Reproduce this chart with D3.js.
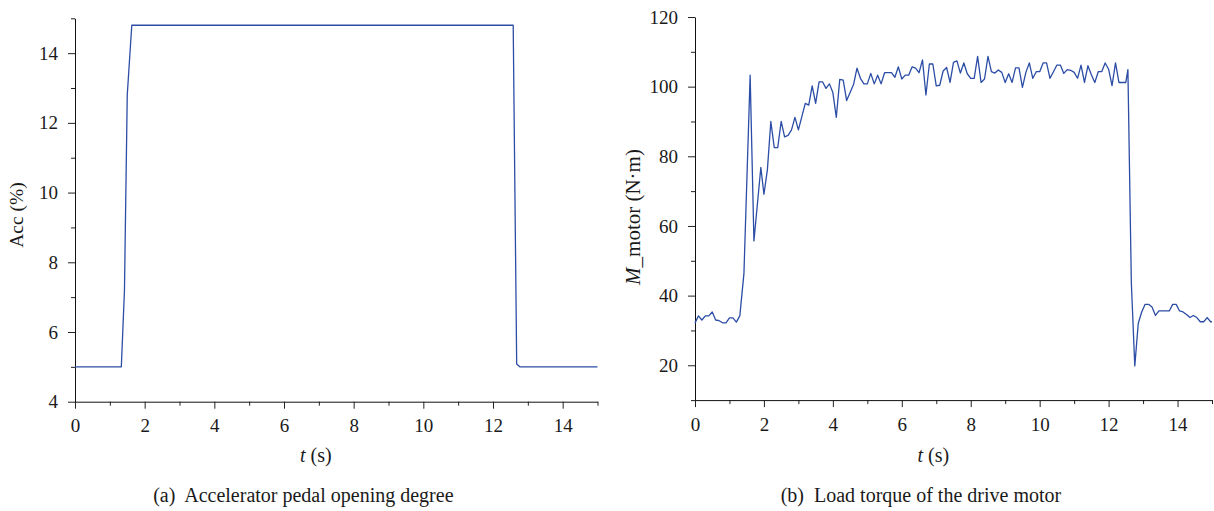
<!DOCTYPE html>
<html><head><meta charset="utf-8">
<script src="https://cdn.jsdelivr.net/npm/d3@7"></script>
<style>
body{margin:0;background:#fff}
text{font-family:"Liberation Serif","Times New Roman","DejaVu Serif",serif;fill:#1a1a1a}
</style>
</head><body><svg id="c" width="1214" height="511" font-family="Liberation Serif, serif"></svg>
<script>
// ---- data ----
const accTime  = [0, 1.33, 1.42, 1.50, 1.63, 12.58, 12.68, 12.77, 15];
const accValue = [5, 5, 7.2, 12.8, 14.8, 14.8, 5.08, 5.0, 5.0];

const torqueTime = [0,0.1,0.2,0.3,0.4,0.5,0.6,0.7,0.8,0.9,1.0,1.1,1.2,1.3,1.42,1.6,1.71,1.91,2.0,2.1,2.2,2.3,2.4,2.5,2.6,2.7,2.8,2.9,3.0,3.1,3.2,3.3,3.4,3.5,3.6,3.7,3.8,3.9,4.0,4.1,4.2,4.3,4.4,4.5,4.6,4.7,4.8,4.9,5.0,5.1,5.2,5.3,5.4,5.5,5.6,5.7,5.8,5.9,6.0,6.1,6.2,6.3,6.4,6.5,6.6,6.7,6.8,6.9,7.0,7.1,7.2,7.3,7.4,7.5,7.6,7.7,7.8,7.9,8.0,8.1,8.2,8.3,8.4,8.5,8.6,8.7,8.8,8.9,9.0,9.1,9.2,9.3,9.4,9.5,9.6,9.7,9.8,9.9,10.0,10.1,10.2,10.3,10.4,10.5,10.6,10.7,10.8,10.9,11.0,11.1,11.2,11.3,11.4,11.5,11.6,11.7,11.8,11.9,12.0,12.1,12.2,12.3,12.4,12.5,12.56,12.66,12.76,12.86,12.96,13.06,13.16,13.26,13.36,13.46,13.56,13.66,13.76,13.86,13.96,14.06,14.16,14.26,14.36,14.46,14.56,14.66,14.76,14.86,14.96,15.0];
const torqueValue = [32.1,34.2,33.0,34.2,34.2,35.3,33.0,32.8,32.2,32.2,33.6,33.6,32.4,34.2,46.4,103.3,55.7,76.8,69.1,76.1,90.0,82.5,82.5,90.0,85.6,86.0,87.6,91.2,87.6,91.4,95.2,94.7,100.2,95.2,101.4,101.4,99.5,100.8,98.3,91.2,102.1,101.9,96.0,98.3,100.6,105.3,102.4,100.8,100.8,103.8,100.8,103.3,100.8,104.0,104.0,104.0,102.7,105.7,102.2,103.3,103.3,105.7,105.3,104.0,107.7,97.6,106.5,106.5,100.2,100.4,104.5,105.5,101.2,107.0,107.4,103.9,106.8,103.7,102.4,102.4,108.7,101.2,102.2,108.7,104.3,103.9,104.8,104.1,101.2,103.7,101.2,105.4,105.4,99.8,104.1,106.8,102.4,104.3,104.3,106.8,106.8,102.4,104.3,106.2,106.2,103.8,104.9,104.7,104.1,102.4,106.2,101.2,106.0,103.4,101.2,104.3,104.3,106.8,105.0,100.3,106.8,101.2,101.2,101.2,104.9,43.6,19.8,32.0,35.3,37.5,37.5,36.7,34.3,35.6,35.6,35.6,35.6,37.5,37.5,35.6,35.3,34.6,33.7,34.3,33.7,32.5,32.5,33.7,32.5,32.5];

const timeTicks   = [0,2,4,6,8,10,12,14];
const timeMinor   = [1,3,5,7,9,11,13,15];
const accTicks    = [4,6,8,10,12,14];
const accMinor    = [5,7,9,11,13,15];
const torqueTicks = [20,40,60,80,100,120];
const torqueMinor = [10,30,50,70,90,110];

const svg = d3.select("#c");
const LINE = "#2c4da6";
const FONT = '"Liberation Serif","Times New Roman","DejaVu Serif",serif';

function panel(o){
  const g = svg.append("g");
  const x = d3.scaleLinear().domain([0,15]).range([o.x0,o.x1]);
  const y = d3.scaleLinear().domain(o.yDomain).range([o.yBottom,o.yTop]);

  g.append("g").attr("transform",`translate(0,${o.yBottom})`)
    .call(d3.axisBottom(x).tickValues(timeMinor).tickSize(4).tickSizeOuter(0).tickFormat(""))
    .call(s=>s.select(".domain").remove());
  g.append("g").attr("transform",`translate(${o.x0},0)`)
    .call(d3.axisLeft(y).tickValues(o.minor).tickSize(4).tickSizeOuter(0).tickFormat(""))
    .call(s=>s.select(".domain").remove());
  const xa = g.append("g").attr("transform",`translate(0,${o.yBottom})`)
    .call(d3.axisBottom(x).tickValues(timeTicks).tickSize(7).tickPadding(10).tickSizeOuter(0));
  const ya = g.append("g").attr("transform",`translate(${o.x0},0)`)
    .call(d3.axisLeft(y).tickValues(o.major).tickSize(7).tickPadding(10).tickSizeOuter(0));
  [xa,ya].forEach(a=>{
    a.attr("font-family",FONT);
    a.selectAll("text").style("font-size","19px").attr("fill","#1a1a1a").style("font-family",FONT);
  });
  g.selectAll(".tick line").attr("stroke","#222");
  g.selectAll(".domain").attr("stroke","#111");

  const data = o.t.map((t,i)=>[t,o.v[i]]);
  g.append("path").datum(data)
    .attr("fill","none").attr("stroke",LINE).attr("stroke-width",1.3)
    .attr("stroke-linejoin","round")
    .attr("d", d3.line().x(d=>x(d[0])).y(d=>y(d[1])));

  const xt = g.append("text").attr("x", o.x0 + 0.461*(o.x1-o.x0)).attr("y", 462)
    .attr("text-anchor","middle").style("font-size","20px").style("font-family",FONT);
  xt.append("tspan").style("font-style","italic").text("t");
  xt.append("tspan").text(" (s)");

  const yt = g.append("text")
    .attr("transform",`translate(${o.yTitleX},${o.yTitleY}) rotate(-90)`)
    .attr("text-anchor","middle").style("font-size",o.yTitleSize).style("font-family",FONT);
  o.yTitle.forEach(p=>{
    const ts = yt.append("tspan").text(p.s);
    if(p.i) ts.style("font-style","italic");
  });

  g.append("text").attr("x", o.x0 + 0.437*(o.x1-o.x0)).attr("y", 502)
    .attr("text-anchor","middle").style("font-size","20px").style("white-space","pre")
    .style("font-family",FONT).text(o.caption);
}

panel({x0:75, x1:597.5, yBottom:401.7, yTop:18.3, yDomain:[4,15],
  major:accTicks, minor:accMinor, t:accTime, v:accValue,
  yTitle:[{s:"Acc (%)"}], yTitleX:23, yTitleY:215, yTitleSize:"19.5px",
  caption:"(a)  Accelerator pedal opening degree"});

panel({x0:695, x1:1212, yBottom:400.1, yTop:17.0, yDomain:[10,120],
  major:torqueTicks, minor:torqueMinor, t:torqueTime, v:torqueValue,
  yTitle:[{s:"M",i:true},{s:"_motor (N·m)"}], yTitleX:640, yTitleY:217, yTitleSize:"21px",
  caption:"(b)  Load torque of the drive motor"});
</script></body></html>
